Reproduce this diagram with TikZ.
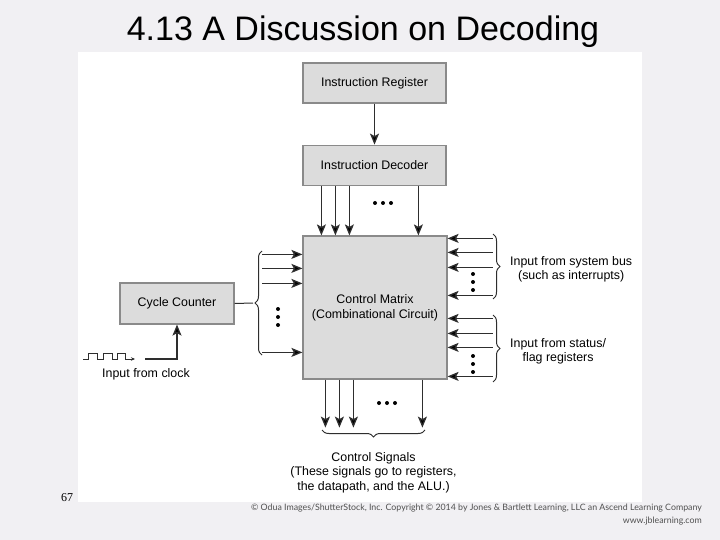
\documentclass[tikz,border=0pt]{standalone}
\usepackage{fontspec}
\setmainfont{Liberation Sans}
\newfontfamily\creditfont{Lato}
\newfontfamily\numfont{Liberation Serif}
\usetikzlibrary{positioning,arrows.meta,decorations.pathreplacing,calc}
\definecolor{slideBG}{HTML}{F1F0F3}
\definecolor{boxBG}{HTML}{DCDCDC}
\definecolor{boxBorder}{HTML}{8A8A8A}
\definecolor{wireGray}{HTML}{2E2E2E}
\definecolor{creditGray}{HTML}{505050}

\begin{document}
\begin{tikzpicture}[x=1pt, y=-1pt,
  box/.style={draw=boxBorder, fill=boxBG, line width=1.2pt, inner sep=0pt,
    font=\fontsize{12.4}{15}\selectfont, align=center},
  sig/.style={draw=wireGray, line width=1.3pt, -{Stealth[length=11pt,width=9pt,inset=2.5pt,fill=black]}},
  lbl/.style={font=\fontsize{12.4}{14.5}\selectfont, align=center, inner sep=0pt},
  brc/.style={draw=wireGray, line width=1pt, decorate, decoration={brace, amplitude=7pt}},
]
  % slide background and white figure area
  \fill[slideBG] (0,0) rectangle (720,540);
  \fill[white] (78,52) rectangle (642,502);
  \useasboundingbox (0,0) rectangle (720,540);

  \node[font=\fontsize{34}{40}\selectfont] (title) at (363,32) {4.13 A Discussion on Decoding};

  \node[box, minimum width=143pt, minimum height=40pt] (ireg) at (374.5,83) {Instruction Register};
  \node[box, minimum width=143pt, minimum height=40pt, below=41pt of ireg] (idec) {Instruction Decoder};
  \node[box, minimum width=144pt, minimum height=143pt] (cmatrix) at (375,307.5) {Control Matrix\\(Combinational Circuit)};
  \node[box, minimum width=114pt, minimum height=41pt] (ccount) at (177,303.5) {Cycle Counter};

  % brace tips
  \coordinate (ltip) at (253,303);
  \coordinate (rtip1) at (502,266.5);
  \coordinate (rtip2) at (502,348.5);
  \coordinate (btip) at (373.5,439);
  \coordinate (clk) at (145,359);

  \draw[sig] (ireg) -- (idec);
  \foreach \dx in {19,33,47,116}
    \draw[sig] ($(idec.south west)+(\dx,0)$) -- ($(cmatrix.north west)+(\dx,0)$);
  \foreach \dy in {19,33,48,117}
    \draw[sig] ($(cmatrix.north west)+(-40,\dy)$) -- ($(cmatrix.north west)+(0,\dy)$);
  \foreach \dy in {3,17,32,60,83,98,112,141}
    \draw[sig] ($(cmatrix.north east)+(45,\dy)$) -- ($(cmatrix.north east)+(0,\dy)$);
  \foreach \dx in {23,37,51,120}
    \draw[sig] ($(cmatrix.south west)+(\dx,0)$) -- ($(cmatrix.south west)+(\dx,48)$);

  % dots
  \foreach \x in {375,383,391} \fill (\x,203) circle (2pt);
  \foreach \x in {379,387,395} \fill (\x,403) circle (2pt);
  \foreach \y in {309,317,325} \fill (278,\y) circle (2pt);
  \foreach \y in {274,282,290,356,364,372} \fill (473,\y) circle (2pt);

  % braces
  \draw[brc] (262,355) -- (262,251);
  \draw[brc] (493,234) -- (493,299);
  \draw[brc] (493,315) -- (493,382);
  \draw[brc] (425,430) -- (322,430);
  \draw[wireGray, line width=1pt] (ccount.east) -- (ltip);

  % clock input
  \draw[wireGray, line width=0.9pt, -{Stealth[length=4pt,width=3.5pt]}] (83,359) -- (88,359) -- (88,353)
    -- (97,353) -- (97,359) -- (103,359) -- (103,353) -- (112,353) -- (112,359) -- (117,359)
    -- (117,353) -- (125,353) -- (125,359) -- (135,359);
  \draw[sig] (clk) -| (ccount.south);

  \node[lbl] (clklbl) at (146,374) {Input from clock};
  \node[lbl, right=8pt of rtip1, yshift=-3pt] (busin) {Input from system bus\\(such as interrupts)};
  \node[lbl, right=8pt of rtip2, yshift=-3pt] (flagin) {Input from status/\\flag registers};
  \node[lbl, below=13pt of btip] (ctrlsig) {Control Signals\\(These signals go to registers,\\the datapath, and the ALU.)};

  \node[font=\creditfont\fontsize{8.8}{12.5}\selectfont, text=creditGray, anchor=north east,
    align=right, inner sep=0pt] (credit) at (702,504)
    {© Odua Images/ShutterStock, Inc. Copyright © 2014 by Jones \& Bartlett Learning, LLC an Ascend Learning Company\\www.jblearning.com};
  \node[font=\numfont\fontsize{12}{14}\selectfont] (pgnum) at (67,498) {67};
\end{tikzpicture}
\end{document}
